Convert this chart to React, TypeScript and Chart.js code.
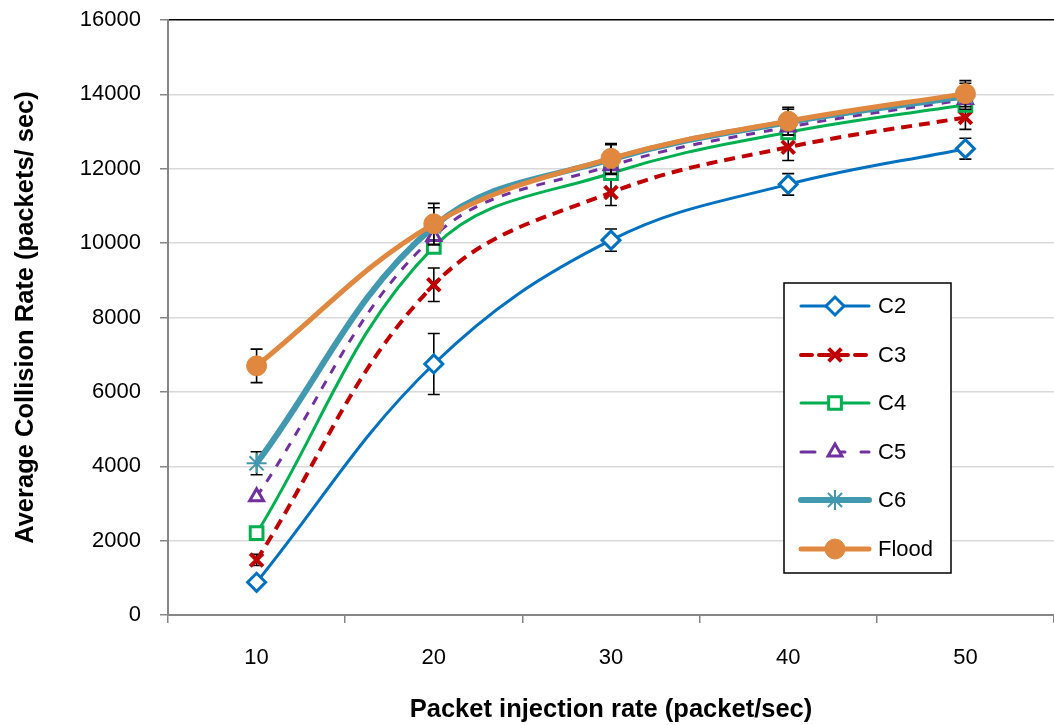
import React, { useEffect, useRef } from 'react';
import { Chart, registerables } from 'chart.js';
import { drawPoint } from 'chart.js/helpers';

Chart.register(...registerables);

// ---- Data ----
const categories = ['10', '20', '30', '40', '50'];
const yTickValues = [0, 2000, 4000, 6000, 8000, 10000, 12000, 14000, 16000];

const c2 = [880, 6750, 10080, 11580, 12540];
const c3 = [1480, 8880, 11360, 12580, 13380];
const c4 = [2200, 9900, 11880, 12980, 13720];
const c5 = [3180, 10180, 12080, 13120, 13860];
const c6 = [4080, 10450, 12250, 13250, 13950];
const flood = [6700, 10520, 12280, 13280, 14020];

const c2Err = [100, 820, 300, 290, 280];
const c3Err = [150, 450, 350, 360, 320];
const c6Err = [310, 500, 400, 350, 350];
const floodErr = [450, 550, 400, 370, 350];

const seriesNames = ['C2', 'C3', 'C4', 'C5', 'C6', 'Flood'];

const FONT = "'Liberation Sans', Arial, sans-serif";

const errorBarPlugin = {
  id: 'errorBars',
  beforeDatasetDraw(chart: any, args: any) {
    const ds = chart.data.datasets[args.index];
    const err = ds.errors;
    if (!err) return;
    const ctx = chart.ctx;
    const yScale = chart.scales.y;
    ctx.save();
    ctx.strokeStyle = '#000';
    ctx.lineWidth = 1.6;
    ctx.setLineDash([]);
    args.meta.data.forEach((pt: any, i: number) => {
      const v = ds.data[i];
      const e = err[i];
      const x = pt.x;
      const yt = yScale.getPixelForValue(v + e);
      const yb = yScale.getPixelForValue(v - e);
      ctx.beginPath();
      ctx.moveTo(x, yt);
      ctx.lineTo(x, yb);
      ctx.moveTo(x - 6, yt);
      ctx.lineTo(x + 6, yt);
      ctx.moveTo(x - 6, yb);
      ctx.lineTo(x + 6, yb);
      ctx.stroke();
    });
    ctx.restore();
  },
};

const legendPlugin = {
  id: 'boxLegend',
  afterDraw(chart: any, _args: any, opts: any) {
    const ctx = chart.ctx;
    const { left, top, width, height, rows, lineX0, lineX1, markerX, textX } = opts;
    ctx.save();
    ctx.fillStyle = '#fff';
    ctx.fillRect(left, top, width, height);
    ctx.strokeStyle = '#000';
    ctx.lineWidth = 1.5;
    ctx.setLineDash([]);
    ctx.strokeRect(left, top, width, height);
    chart.data.datasets.forEach((ds: any, i: number) => {
      const y = rows[i];
      ctx.save();
      ctx.strokeStyle = ds.borderColor;
      ctx.lineWidth = ds.borderWidth;
      ctx.lineCap = 'round';
      ctx.setLineDash(ds.legendDash || []);
      ctx.beginPath();
      ctx.moveTo(lineX0, y);
      ctx.lineTo(lineX1, y);
      ctx.stroke();
      ctx.setLineDash([]);
      ctx.lineCap = 'butt';
      ctx.strokeStyle = ds.pointBorderColor;
      ctx.fillStyle = ds.pointBackgroundColor;
      ctx.lineWidth = ds.pointBorderWidth;
      drawPoint(ctx, { pointStyle: ds.pointStyle, radius: ds.pointRadius, rotation: 0, borderWidth: ds.pointBorderWidth } as any, markerX, y);
      ctx.restore();
      ctx.fillStyle = '#000';
      ctx.font = `22px ${FONT}`;
      ctx.textBaseline = 'middle';
      ctx.textAlign = 'left';
      ctx.fillText(ds.label, textX, y + 1);
    });
    ctx.restore();
  },
};

export default function App() {
  const ref = useRef<HTMLCanvasElement | null>(null);

  useEffect(() => {
    if (!ref.current) return;
    const mk = (
      label: string,
      data: number[],
      color: string,
      width: number,
      pointStyle: string,
      radius: number,
      pbw: number,
      fill: string,
      order: number,
      errors: number[] | null,
      dash: number[] | undefined,
      legendDash?: number[]
    ) => ({
      label,
      data,
      borderColor: color,
      borderWidth: width,
      borderDash: dash,
      pointStyle,
      pointRadius: radius,
      pointBorderWidth: pbw,
      pointBorderColor: color,
      pointBackgroundColor: fill,
      pointHoverRadius: radius,
      tension: 0.38,
      fill: false,
      order,
      errors,
      legendDash: legendDash || dash,
    });

    const datasets: any[] = [
      mk(seriesNames[0], c2, '#0070C0', 3, 'rectRot', 9, 3, '#ffffff', 6, c2Err, undefined),
      mk(seriesNames[1], c3, '#C00000', 4, 'crossRot', 9, 4, '#C00000', 5, c3Err, [11, 7]),
      mk(seriesNames[2], c4, '#00B050', 3, 'rect', 9, 3, '#ffffff', 4, null, undefined),
      mk(seriesNames[3], c5, '#7030A0', 3, 'triangle', 8, 3, '#ffffff', 3, null, [9, 9], [14, 16]),
      mk(seriesNames[4], c6, '#4198AF', 6, 'star', 10, 2, '#4198AF', 2, c6Err, undefined),
      mk(seriesNames[5], flood, '#E0883F', 5, 'circle', 10, 1, '#E0883F', 1, floodErr, undefined),
    ];

    const chart = new Chart(ref.current, {
      type: 'line',
      data: { labels: categories, datasets },
      options: {
        responsive: false,
        devicePixelRatio: 1,
        animation: false,
        layout: { autoPadding: false, padding: { top: 20, right: 0, bottom: 0, left: 0 } },
        plugins: {
          legend: { display: false },
          tooltip: { enabled: false },
          boxLegend: {
            left: 784,
            top: 283,
            width: 167,
            height: 290,
            rows: [306, 355, 403, 452, 500, 549],
            lineX0: 801,
            lineX1: 869,
            markerX: 835,
            textX: 878,
          },
        } as any,
        scales: {
          x: {
            type: 'category',
            offset: true,
            grid: {
              offset: true,
              drawOnChartArea: false,
              tickLength: 8,
              color: '#868686',
              lineWidth: 1.5,
            },
            border: { color: '#868686', width: 2 },
            ticks: { color: '#000', font: { family: FONT, size: 22 }, padding: 22 },
            title: {
              display: true,
              text: 'Packet injection rate (packet/sec)',
              color: '#000',
              font: { family: FONT, size: 25.5, weight: 'bold' },
              padding: { top: 0, bottom: 0 },
            },
            afterFit: (s: any) => {
              s.height = 110;
              s.paddingLeft = 0;
              s.paddingRight = 0;
            },
          },
          y: {
            min: 0,
            max: 16000,
            afterBuildTicks: (s: any) => {
              s.ticks = yTickValues.map((v) => ({ value: v }));
            },
            grid: {
              color: (c: any) => (c.tick && c.tick.value === 16000 ? '#000000' : '#D9D9D9'),
              lineWidth: 1.5,
              tickLength: 8,
              tickColor: '#868686',
            },
            border: { color: '#868686', width: 2 },
            ticks: {
              color: '#000',
              font: { family: FONT, size: 22 },
              padding: 19,
              callback: (v: any) => String(v),
            },
            title: {
              display: true,
              text: 'Average Collision Rate (packets/ sec)',
              color: '#000',
              font: { family: FONT, size: 25.5, weight: 'bold' },
              padding: { top: 11, bottom: 0 },
            },
            afterFit: (s: any) => {
              s.width = 168;
              s.paddingTop = 0;
              s.paddingBottom = 0;
            },
          },
        },
      },
      plugins: [errorBarPlugin, legendPlugin],
    } as any);
    return () => chart.destroy();
  }, []);

  return (
    <div style={{ position: 'absolute', left: 0, top: 0, width: 1054, height: 725, background: '#fff' }}>
      <canvas ref={ref} width={1054} height={725} />
    </div>
  );
}
